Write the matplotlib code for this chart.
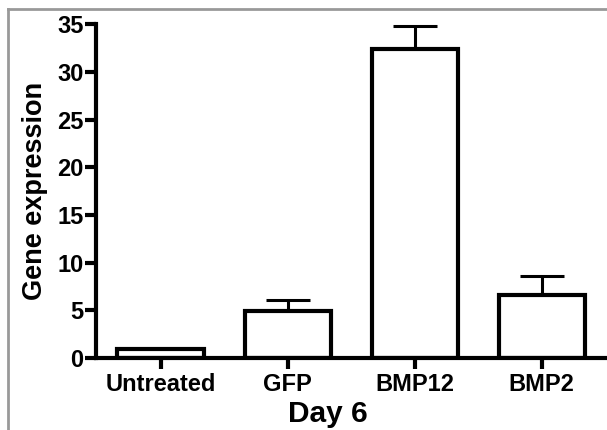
import matplotlib.pyplot as plt
import numpy as np
from matplotlib.lines import Line2D

groups = ['Untreated', 'GFP', 'BMP12', 'BMP2']
means = [0.95, 4.9, 32.4, 6.6]
err_up = [0.0, 1.2, 2.4, 2.0]

plt.rcParams['font.family'] = ['Liberation Sans', 'DejaVu Sans']
plt.rcParams['font.weight'] = 'bold'

fig = plt.figure(figsize=(6.07, 4.30), dpi=100)
ax = fig.add_axes([0.158, 0.167, 0.86, 0.777])

x = np.arange(len(groups))
ax.bar(x, means, width=0.68, color='white', edgecolor='black', linewidth=3, zorder=2)
ax.errorbar(x, means, yerr=[np.zeros(len(err_up)), err_up], fmt='none',
            ecolor='black', elinewidth=2.2, capsize=16, capthick=2.2, zorder=1)

ax.set_xlim(-0.51, 3.6)
ax.set_ylim(0, 35)
ax.set_yticks(range(0, 36, 5))
ax.set_xticks(x)
ax.set_xticklabels(groups)
ax.tick_params(axis='both', labelsize=17, width=3, length=8, direction='out')
ax.tick_params(axis='x', pad=3)
ax.tick_params(axis='y', pad=1)
for s in ['top', 'right']:
    ax.spines[s].set_visible(False)
for s in ['left', 'bottom']:
    ax.spines[s].set_linewidth(3)
for lbl in ax.get_xticklabels() + ax.get_yticklabels():
    lbl.set_fontweight('bold')

ax.set_ylabel('Gene expression', fontsize=19.5, fontweight='bold')
ax.set_xlabel('Day 6', fontsize=21.5, fontweight='bold')
ax.yaxis.set_label_coords(-0.092, 0.5)
ax.xaxis.set_label_coords(0.444, -0.125)

# grey frame around the figure
fig.add_artist(Line2D([0.0125, 1.0], [0.979, 0.979], color='#999999', lw=2))
fig.add_artist(Line2D([0.0125, 0.0125], [0.0, 0.979], color='#999999', lw=2))

plt.savefig('out.png', dpi=100)
